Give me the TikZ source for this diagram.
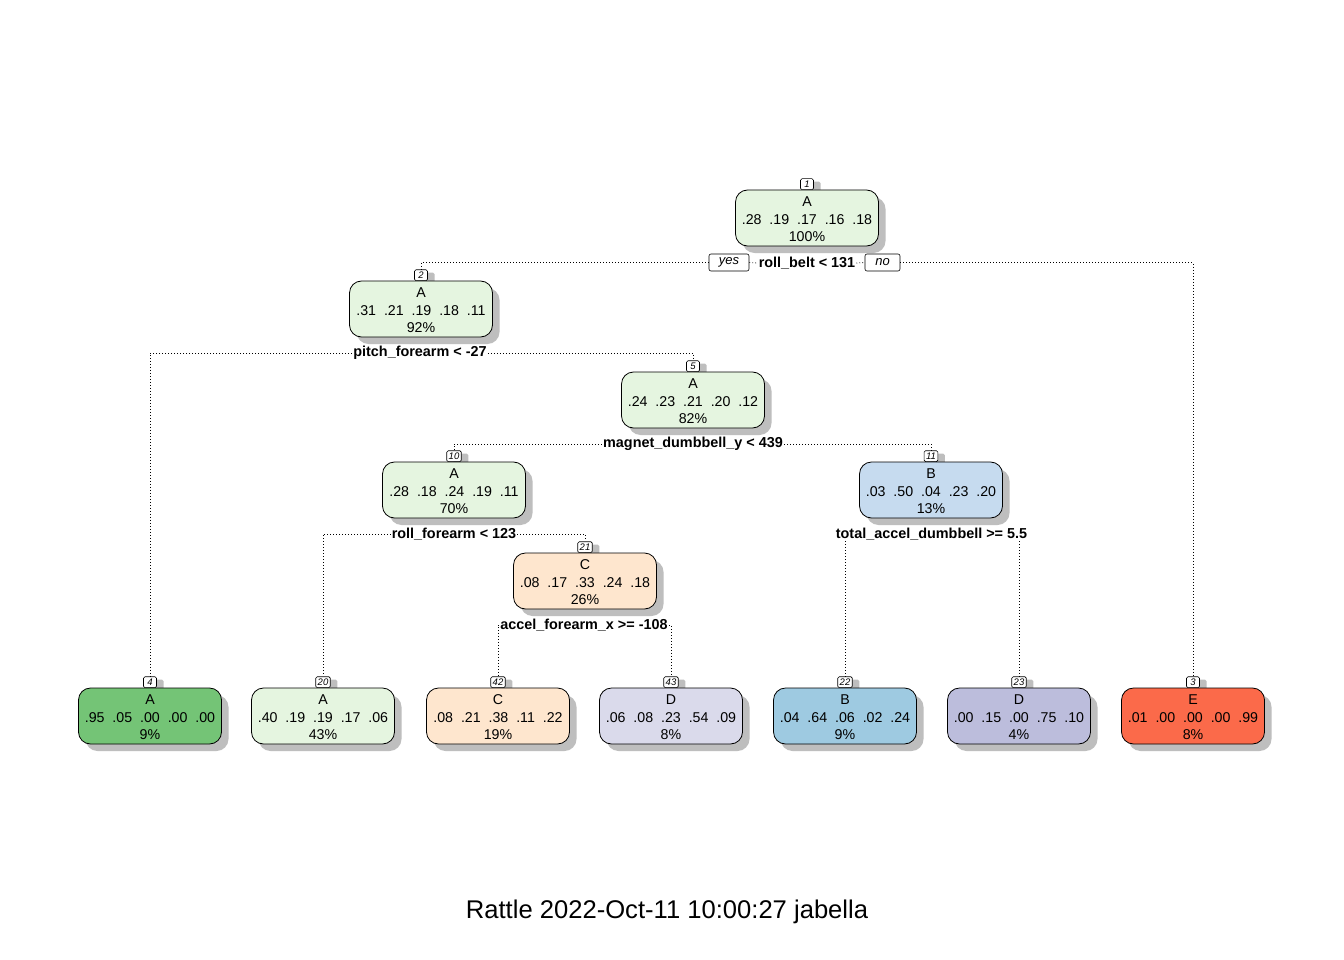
\documentclass[tikz,border=0pt]{standalone}
\usepackage{fontspec}
\setmainfont{Liberation Sans}
\usetikzlibrary{shadows}
\definecolor{cA}{HTML}{E5F5E0}
\definecolor{cAd}{HTML}{74C476}
\definecolor{cC}{HTML}{FEE6CE}
\definecolor{cD}{HTML}{DADAEB}
\definecolor{cDd}{HTML}{BCBDDC}
\definecolor{cBl}{HTML}{C6DBEF}
\definecolor{cB}{HTML}{9ECAE1}
\definecolor{cE}{HTML}{FB6A4A}
\definecolor{shadowgray}{HTML}{BEBEBE}
\tikzset{
  tbox/.style={draw=black, line width=0.8pt, rounded corners=12pt,
    minimum width=143pt, minimum height=56pt, inner sep=0pt,
    general shadow={fill=shadowgray, shadow xshift=7pt, shadow yshift=-7pt}},
  tlab/.style={align=center, inner sep=0pt, font=\fontsize{14.2}{17.5}\selectfont},
  numbox/.style={draw=black, fill=white, line width=0.6pt, rounded corners=1.5pt,
    font=\fontsize{9.5}{9.5}\selectfont\itshape, inner xsep=2pt, inner ysep=0pt,
    minimum height=11pt, minimum width=13pt,
    general shadow={fill=shadowgray, shadow xshift=7pt, shadow yshift=-3pt}},
  splitlab/.style={font=\fontsize{14.4}{14.4}\selectfont\bfseries, inner sep=1pt},
  ynbox/.style={draw=black, line width=0.6pt, rounded corners=2pt,
    font=\fontsize{13}{13}\selectfont\itshape, minimum height=17pt, inner sep=0pt},
  conn/.style={line width=0.8pt, dash pattern=on 0.8pt off 2.2pt},
}
\newcommand{\pr}[5]{#1\ \ #2\ \ #3\ \ #4\ \ #5}
\newcommand{\treenode}[8]{%
  \node[numbox, anchor=south] (#1n) at (#2,#3-28) {#5};
  \node[tbox, fill=#4] (#1) at (#2,#3) {};
  \node[tlab] (#1t) at (#2,#3+1.5) {#6\\#7\\#8};
}
\begin{document}
\begin{tikzpicture}[x=1pt,y=-1pt]
\fill[white] (0,0) rectangle (1344,960);
\useasboundingbox (0,0) rectangle (1344,960);

\treenode{n1}{807}{218}{cA}{1}{A}{\pr{.28}{.19}{.17}{.16}{.18}}{100\%}
\treenode{n2}{421}{309}{cA}{2}{A}{\pr{.31}{.21}{.19}{.18}{.11}}{92\%}
\treenode{n5}{693}{400}{cA}{5}{A}{\pr{.24}{.23}{.21}{.20}{.12}}{82\%}
\treenode{n10}{454}{490}{cA}{10}{A}{\pr{.28}{.18}{.24}{.19}{.11}}{70\%}
\treenode{n11}{931}{490}{cBl}{11}{B}{\pr{.03}{.50}{.04}{.23}{.20}}{13\%}
\treenode{n21}{585}{581}{cC}{21}{C}{\pr{.08}{.17}{.33}{.24}{.18}}{26\%}
\treenode{n4}{150}{716}{cAd}{4}{A}{\pr{.95}{.05}{.00}{.00}{.00}}{9\%}
\treenode{n20}{323}{716}{cA}{20}{A}{\pr{.40}{.19}{.19}{.17}{.06}}{43\%}
\treenode{n42}{498}{716}{cC}{42}{C}{\pr{.08}{.21}{.38}{.11}{.22}}{19\%}
\treenode{n43}{671}{716}{cD}{43}{D}{\pr{.06}{.08}{.23}{.54}{.09}}{8\%}
\treenode{n22}{845}{716}{cB}{22}{B}{\pr{.04}{.64}{.06}{.02}{.24}}{9\%}
\treenode{n23}{1019}{716}{cDd}{23}{D}{\pr{.00}{.15}{.00}{.75}{.10}}{4\%}
\treenode{n3}{1193}{716}{cE}{3}{E}{\pr{.01}{.00}{.00}{.00}{.99}}{8\%}

\node[splitlab] (s1) at (807,263) {roll\_belt < 131};
\node[ynbox, minimum width=40pt] (yes) at (729,262.5) {yes};
\node[ynbox, minimum width=35pt] (no) at (882.5,262.5) {no};
\node[splitlab] (s2) at (420,353) {pitch\_forearm < -27};
\node[splitlab] (s5) at (693,444) {magnet\_dumbbell\_y < 439};
\node[splitlab] (s10) at (454,534) {roll\_forearm < 123};
\node[splitlab] (s11) at (931.5,534) {total\_accel\_dumbbell >= 5.5};
\node[splitlab] (s21) at (584,625) {accel\_forearm\_x >= -108};

\draw[conn] (yes.east) -- (s1.west);
\draw[conn] (s1.east) -- (no.west);
\draw[conn] (yes.west) -| (n2n.north);
\draw[conn] (no.east) -| (n3n.north);
\draw[conn] (s2.west) -| (n4n.north);
\draw[conn] (s2.east) -| (n5n.north);
\draw[conn] (s5.west) -| (n10n.north);
\draw[conn] (s5.east) -| (n11n.north);
\draw[conn] (s10.west) -| (n20n.north);
\draw[conn] (s10.east) -| (n21n.north);
\draw[conn] (s11.south -| n22n.north) -- (n22n.north);
\draw[conn] (s11.south -| n23n.north) -- (n23n.north);
\draw[conn] (s21.west) -| (n42n.north);
\draw[conn] (s21.east) -| (n43n.north);

\node[font=\fontsize{25.6}{25.6}\selectfont, inner sep=0pt] (cap) at (667,911.5) {Rattle 2022-Oct-11 10:00:27 jabella};
\end{tikzpicture}
\end{document}
